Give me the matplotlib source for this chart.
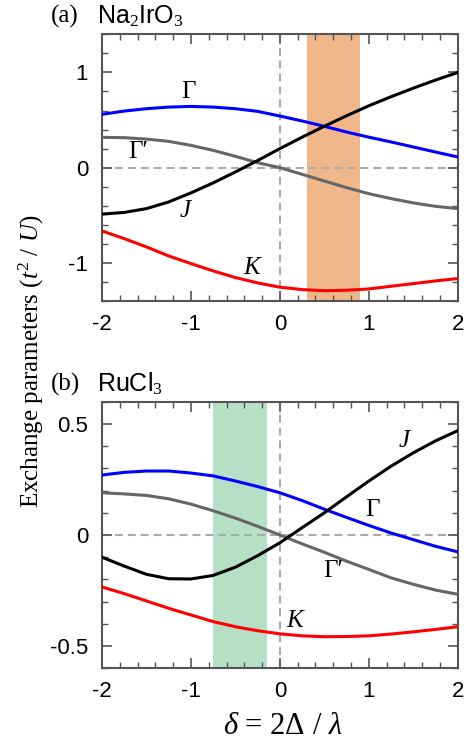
import numpy as np
import matplotlib
matplotlib.use('Agg')
import matplotlib.pyplot as plt
from matplotlib.ticker import MultipleLocator

plt.rcParams['font.family'] = ['Liberation Sans', 'DejaVu Sans']
plt.rcParams['mathtext.fontset'] = 'custom'
plt.rcParams['mathtext.rm'] = 'Liberation Serif'
plt.rcParams['mathtext.it'] = 'Liberation Serif:italic'

delta = [-2, -1.75, -1.5, -1.25, -1, -0.75, -0.5, -0.25, 0, 0.25, 0.5, 0.75, 1, 1.25, 1.5, 1.75, 2]

# (a) Na2IrO3
a_gamma = [0.56, 0.594, 0.619, 0.636, 0.643, 0.636, 0.619, 0.591, 0.542, 0.49, 0.434, 0.374, 0.32, 0.27, 0.217, 0.164, 0.112]
a_gammap = [0.318, 0.315, 0.30, 0.276, 0.234, 0.182, 0.119, 0.052, 0.0, -0.07, -0.14, -0.21, -0.273, -0.325, -0.37, -0.406, -0.43]
a_j = [-0.488, -0.47, -0.43, -0.36, -0.265, -0.16, -0.045, 0.075, 0.20, 0.32, 0.435, 0.545, 0.65, 0.745, 0.835, 0.92, 1.0]
a_k = [-0.664, -0.745, -0.832, -0.927, -1.007, -1.084, -1.154, -1.21, -1.255, -1.28, -1.292, -1.287, -1.273, -1.245, -1.217, -1.189, -1.164]
a_band = (0.3, 0.9)

# (b) RuCl3
b_gamma = [0.27, 0.282, 0.288, 0.288, 0.279, 0.266, 0.243, 0.218, 0.19, 0.155, 0.116, 0.079, 0.043, 0.009, -0.021, -0.051, -0.076]
b_gammap = [0.19, 0.185, 0.178, 0.163, 0.139, 0.109, 0.076, 0.039, 0.0, -0.04, -0.078, -0.118, -0.155, -0.193, -0.222, -0.248, -0.267]
b_j = [-0.10, -0.14, -0.177, -0.197, -0.198, -0.182, -0.145, -0.093, -0.035, 0.033, 0.10, 0.172, 0.243, 0.31, 0.37, 0.424, 0.47]
b_k = [-0.234, -0.264, -0.297, -0.33, -0.36, -0.39, -0.413, -0.431, -0.445, -0.454, -0.458, -0.457, -0.454, -0.446, -0.436, -0.425, -0.413]
b_band = (-0.75, -0.15)

fig = plt.figure(figsize=(4.72, 7.46), dpi=100)
ax1 = fig.add_axes([0.216, 0.5965, 0.754, 0.3575])
ax2 = fig.add_axes([0.216, 0.1042, 0.754, 0.3573])

dash = (0, (3.8, 2.4))


def style(ax, ylim, major, minor):
    ax.set_xlim(-2, 2)
    ax.set_ylim(*ylim)
    ax.xaxis.set_major_locator(MultipleLocator(1))
    ax.xaxis.set_minor_locator(MultipleLocator(0.2))
    ax.yaxis.set_major_locator(MultipleLocator(major))
    ax.yaxis.set_minor_locator(MultipleLocator(minor))
    ax.tick_params(which='both', direction='in', top=True, right=True,
                   color='#555555', labelsize=16)
    ax.tick_params(which='major', length=7, width=1.2)
    ax.tick_params(which='minor', length=4, width=1.0)
    ax.tick_params(axis='y', which='major', pad=10)
    ax.tick_params(axis='x', which='major', pad=9)
    for sp in ax.spines.values():
        sp.set_color('#555555')
        sp.set_linewidth(1.5)
    ax.axhline(0, color='#aaaaaa', lw=1.5, ls=dash, zorder=1)
    ax.axvline(0, color='#aaaaaa', lw=1.5, ls=dash, zorder=1)


for ax, g, gp, j, k, band, col in [
        (ax1, a_gamma, a_gammap, a_j, a_k, a_band, '#f0b88a'),
        (ax2, b_gamma, b_gammap, b_j, b_k, b_band, '#b5e0c5')]:
    ax.axvspan(band[0], band[1], color=col, lw=0, zorder=0)
    ax.plot(delta, g, color='#0000ff', lw=2.2, zorder=3, solid_joinstyle='round')
    ax.plot(delta, gp, color='#666666', lw=2.2, zorder=3, solid_joinstyle='round')
    ax.plot(delta, j, color='black', lw=2.2, zorder=3, solid_joinstyle='round')
    ax.plot(delta, k, color='#ff0000', lw=2.2, zorder=3, solid_joinstyle='round')

style(ax1, (-1.4, 1.4), 1, 0.2)
style(ax2, (-0.6, 0.6), 0.5, 0.1)
ax1.set_yticks([-1, 0, 1])
ax1.set_yticklabels(['-1', '0', '1'])
ax2.set_yticks([-0.5, 0, 0.5])
ax2.set_yticklabels(['-0.5', '0', '0.5'])
for ax in (ax1, ax2):
    ax.set_xticks([-2, -1, 0, 1, 2])
    ax.set_xticklabels(['-2', '-1', '0', '1', '2'])

serif = ['Liberation Serif', 'DejaVu Serif']
lab = dict(fontsize=18, ha='center', va='center', zorder=4, family=serif)
itl = dict(lab, style='italic')
ax1.text(-1.03, 0.79, 'Γ', **lab)
ax1.text(-1.59, 0.16, 'Γ′', **lab)
ax1.text(-1.07, -0.45, 'J', **itl)
ax1.text(-0.32, -1.05, 'K', **itl)
ax2.text(1.40, 0.425, 'J', **itl)
ax2.text(1.04, 0.112, 'Γ', **lab)
ax2.text(0.60, -0.164, 'Γ′', **lab)
ax2.text(0.17, -0.388, 'K', **itl)

fig.text(0.108, 0.978, '(a)', family=serif, fontsize=18, ha='left', va='center')
fig.text(0.205, 0.978, r'Na$_2$IrO$_3$', fontsize=18, ha='left', va='center')
fig.text(0.108, 0.485, '(b)', family=serif, fontsize=18, ha='left', va='center')
fig.text(0.205, 0.485, r'RuCl$_3$', fontsize=18, ha='left', va='center')

fig.text(0.066, 0.516, r'Exchange parameters ($t^2$ / $U$)', family=serif,
         fontsize=18, rotation=90, ha='center', va='center')
fig.text(0.60, 0.026, r'$\delta$ = 2$\Delta$ / $\lambda$', family=serif,
         fontsize=22, ha='center', va='center')

fig.savefig('out.png', dpi=100)
